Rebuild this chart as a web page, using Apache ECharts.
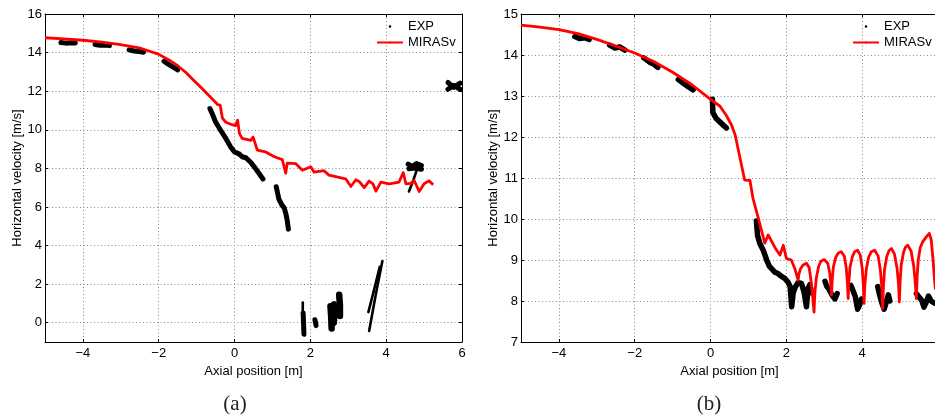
<!DOCTYPE html>
<html>
<head>
<meta charset="utf-8">
<script src="https://cdn.jsdelivr.net/npm/echarts@6/dist/echarts.min.js"></script>
<style>
  html, body { margin: 0; padding: 0; background: #fff; }
  #chart { width: 935px; height: 419px; }
</style>
</head>
<body>
<div id="chart"></div>
<script>
// Tick values
const xTicks = [-4, -2, 0, 2, 4, 6];
const yTicksA = [0, 2, 4, 6, 8, 10, 12, 14, 16];
const yTicksB = [7, 8, 9, 10, 11, 12, 13, 14, 15];

// (a) MIRASv simulation: [axial position m, horizontal velocity m/s]
const mirasA = [
  [-5, 14.77], [-4.5, 14.71], [-4, 14.64], [-3.5, 14.54], [-3.05, 14.42], [-2.52, 14.25],
  [-2.01, 13.92], [-1.73, 13.62], [-1.5, 13.32], [-1.29, 12.98], [-1.1, 12.6], [-0.85, 12.12],
  [-0.6, 11.62], [-0.44, 11.3], [-0.38, 11.28], [-0.32, 10.6], [-0.23, 10.39], [-0.05, 10.25],
  [0.03, 10.22], [0.08, 10.5], [0.13, 9.8], [0.2, 9.55], [0.43, 9.45], [0.49, 9.62], [0.6, 8.95],
  [0.82, 8.85], [1.05, 8.6], [1.26, 8.45], [1.35, 7.75], [1.39, 8.27], [1.61, 8.25], [1.79, 7.9],
  [2.01, 8.08], [2.1, 7.8], [2.36, 7.88], [2.49, 7.65], [2.93, 7.46], [3.07, 7.06], [3.2, 7.41],
  [3.3, 7.3], [3.42, 7.0], [3.55, 7.34], [3.65, 7.2], [3.73, 6.82], [3.86, 7.29], [4.08, 7.2],
  [4.34, 7.29], [4.45, 7.78], [4.52, 7.2], [4.65, 7.22], [4.74, 7.37], [4.87, 6.8], [5.0, 7.2],
  [5.13, 7.35], [5.24, 7.15]
];

// (a) experimental traces, one array per recorded stretch
const expA1 = [[-4.58, 14.52], [-4.45, 14.49], [-4.32, 14.51], [-4.2, 14.5]];
const expA2 = [[-3.68, 14.42], [-3.55, 14.38], [-3.42, 14.39], [-3.3, 14.36]];
const expA3 = [[-2.78, 14.14], [-2.65, 14.08], [-2.52, 14.06], [-2.4, 14.02]];
const expA4 = [[-1.86, 13.55], [-1.75, 13.4], [-1.62, 13.25], [-1.5, 13.1]];
const expA5 = [[-0.65, 11.1], [-0.56, 10.7], [-0.5, 10.4], [-0.36, 9.95], [-0.23, 9.55],
  [-0.1, 9.1], [0, 8.85], [0.12, 8.75], [0.2, 8.6], [0.3, 8.55], [0.43, 8.3], [0.55, 8.0], [0.75, 7.45]];
const expA6 = [[1.1, 7.05], [1.17, 6.4], [1.25, 6.1], [1.31, 5.95], [1.36, 5.6], [1.39, 5.3], [1.42, 4.85]];
const expA7 = [[1.81, 0.5], [1.82, 0.0], [1.83, -0.6]];
const expA8 = [[2.12, 0.15], [2.15, -0.15]];
const expA12 = [[4.58, 8.22], [4.7, 8.1], [4.8, 8.25], [4.93, 8.15]];
const expA13 = [[4.6, 7.98], [4.75, 8.02], [4.93, 7.95]];
const expA14 = [[5.63, 12.45], [5.78, 12.2], [5.95, 12.42]];
const expA15 = [[5.63, 12.1], [5.78, 12.3], [5.95, 12.1]];
// wider patches near x = 2.5 .. 2.8
const expABlob1 = [[2.53, 0.85], [2.55, 0.3], [2.56, -0.3]];
const expABlob2 = [[2.62, 0.95], [2.63, 0.4], [2.62, 0.0]];
const expABlob3 = [[2.76, 1.45], [2.78, 0.9], [2.78, 0.35]];
// thin strokes
const expAThin1 = [[1.8, 1.05], [1.8, 0.55]];
const expAThin2 = [[3.55, -0.43], [3.72, 1.4], [3.9, 3.2]];
const expAThin3 = [[3.53, 0.55], [3.68, 1.7], [3.83, 2.9]];
const expAThin4 = [[4.82, 8.0], [4.72, 7.4], [4.6, 6.8]];

// (b) MIRASv simulation
const mirasB = [
  [-5, 14.73], [-4.5, 14.68], [-4, 14.62], [-3.5, 14.52], [-3, 14.38], [-2.5, 14.22], [-2, 14.05],
  [-1.5, 13.84], [-1, 13.58], [-0.5, 13.28], [0, 12.92], [0.25, 12.75], [0.4, 12.55], [0.55, 12.3],
  [0.65, 12.05], [0.77, 11.52], [0.9, 10.95], [1.04, 10.94], [1.12, 10.5], [1.26, 10.02],
  [1.43, 9.41], [1.52, 9.61], [1.7, 9.3], [1.83, 9.12], [1.92, 9.36], [2.0, 9.04], [2.13, 9.0],
  [2.22, 8.8], [2.31, 8.51],
  [2.33, 8.65], [2.37, 8.78], [2.44, 8.88], [2.53, 8.92], [2.6, 8.82], [2.65, 8.5], [2.69, 8.15], [2.73, 7.73],
  [2.75, 8.18], [2.79, 8.56], [2.85, 8.84], [2.91, 8.97], [3.0, 9.01], [3.09, 8.92], [3.14, 8.71], [3.17, 8.45], [3.19, 8.15],
  [3.21, 8.52], [3.24, 8.83], [3.3, 9.06], [3.37, 9.17], [3.45, 9.2], [3.53, 9.09], [3.58, 8.8], [3.61, 8.46], [3.63, 8.06],
  [3.65, 8.48], [3.68, 8.83], [3.74, 9.08], [3.8, 9.2], [3.88, 9.24], [3.95, 9.12], [4.0, 8.8], [4.03, 8.4], [4.05, 7.94],
  [4.07, 8.4], [4.11, 8.78], [4.17, 9.07], [4.24, 9.2], [4.33, 9.24], [4.42, 9.1], [4.48, 8.75], [4.52, 8.3], [4.54, 7.82],
  [4.56, 8.33], [4.59, 8.77], [4.65, 9.09], [4.71, 9.23], [4.77, 9.28], [4.85, 9.15], [4.92, 8.8], [4.96, 8.4], [4.98, 7.98],
  [5.0, 8.46], [5.03, 8.88], [5.09, 9.18], [5.14, 9.31], [5.2, 9.36], [5.29, 9.22], [5.36, 8.85], [5.4, 8.45], [5.43, 8.06],
  [5.45, 8.6], [5.48, 9.0], [5.53, 9.3], [5.6, 9.45], [5.68, 9.55], [5.77, 9.65], [5.82, 9.5], [5.87, 9.0], [5.91, 8.5],
  [5.93, 8.3], [6, 8.3]
];

// (b) experimental traces
const expB1 = [[-3.58, 14.45], [-3.45, 14.4], [-3.32, 14.42], [-3.2, 14.38]];
const expB2 = [[-2.66, 14.24], [-2.52, 14.17], [-2.4, 14.2], [-2.26, 14.12]];
const expB3 = [[-1.76, 13.93], [-1.6, 13.82], [-1.5, 13.78], [-1.39, 13.7]];
const expB4 = [[-0.85, 13.4], [-0.7, 13.3], [-0.58, 13.22], [-0.46, 13.15]];
const expB5 = [[0.05, 12.92], [0.06, 12.6], [0.15, 12.45], [0.3, 12.32], [0.42, 12.22]];
const expB6 = [[1.21, 9.95], [1.24, 9.6], [1.3, 9.4], [1.39, 9.24], [1.48, 9.0], [1.55, 8.85],
  [1.61, 8.79], [1.7, 8.7], [1.78, 8.67], [1.87, 8.6], [1.96, 8.55], [2.05, 8.45], [2.1, 8.35],
  [2.14, 7.86], [2.18, 8.2], [2.24, 8.35], [2.31, 8.45], [2.4, 8.43], [2.47, 8.2], [2.53, 7.86],
  [2.57, 8.3], [2.62, 8.4], [2.66, 8.2]];
const expB7 = [[3.02, 8.48], [3.07, 8.35], [3.12, 8.3], [3.2, 8.15], [3.28, 8.05], [3.34, 8.18]];
const expB8 = [[3.7, 8.38], [3.76, 8.25], [3.82, 8.1], [3.88, 7.8], [3.93, 7.9], [3.98, 8.05]];
const expB9 = [[4.41, 8.35], [4.46, 8.15], [4.52, 7.95], [4.58, 7.8], [4.63, 7.95], [4.69, 8.15], [4.73, 8.0]];
const expB10 = [[5.43, 8.18], [5.5, 8.1], [5.57, 8.02], [5.63, 7.85], [5.68, 7.95], [5.75, 8.12], [5.82, 8.0], [5.9, 7.95]];

const FONT = '"Liberation Sans", Arial, Helvetica, sans-serif';
const fmt = v => String(v).replace('-', '\u2212');

function xAxis(grid, position, withLabels) {
  return {
    type: 'value', gridIndex: grid, position: position, min: -5, max: 6,
    name: withLabels ? 'Axial position [m]' : '', nameLocation: 'middle', nameGap: 17,
    nameTextStyle: { fontFamily: FONT, fontSize: 13, color: '#000' },
    axisLine: { show: true, onZero: false, lineStyle: { color: '#000', width: 1 } },
    axisTick: { show: true, inside: true, length: 3, customValues: xTicks, lineStyle: { color: '#000' } },
    axisLabel: { show: withLabels, customValues: xTicks, formatter: fmt, margin: 5,
      fontFamily: FONT, fontSize: 13, color: '#000' },
    splitLine: { show: withLabels, lineStyle: { color: '#888', width: 1, type: [1, 2.5] } }
  };
}
function yAxis(grid, position, withLabels, min, max, ticks) {
  return {
    type: 'value', gridIndex: grid, position: position, min: min, max: max,
    name: withLabels ? 'Horizontal velocity [m/s]' : '', nameLocation: 'middle', nameGap: 21,
    nameTextStyle: { fontFamily: FONT, fontSize: 13, color: '#000' },
    axisLine: { show: true, onZero: false, lineStyle: { color: '#000', width: 1 } },
    axisTick: { show: true, inside: true, length: 3, customValues: ticks, lineStyle: { color: '#000' } },
    axisLabel: { show: withLabels, customValues: ticks, formatter: fmt, margin: 3,
      fontFamily: FONT, fontSize: 13, color: '#000' },
    splitLine: { show: withLabels, lineStyle: { color: '#888', width: 1, type: [1, 2.5] } }
  };
}

function expSeries(data, xi, yi, width) {
  return {
    name: 'EXP', type: 'line', xAxisIndex: xi, yAxisIndex: yi, data: data,
    showSymbol: false, symbol: 'none', silent: true, z: 2,
    lineStyle: { color: '#000', width: width, join: 'round', cap: 'round' },
    itemStyle: { color: '#000' }
  };
}
function mirasSeries(data, xi, yi) {
  return {
    name: 'MIRASv', type: 'line', xAxisIndex: xi, yAxisIndex: yi, data: data,
    showSymbol: false, symbol: 'none', silent: true, z: 3,
    lineStyle: { color: '#ff0000', width: 2.8, join: 'round' },
    itemStyle: { color: '#ff0000' }
  };
}

const thickA = [expA1, expA2, expA3, expA4, expA5, expA6, expA7, expA8, expA12, expA13, expA14, expA15];
const blobA = [expABlob1, expABlob2, expABlob3];
const thinA = [expAThin1, expAThin2, expAThin3, expAThin4];
const thickB = [expB1, expB2, expB3, expB4, expB5, expB6, expB7, expB8, expB9, expB10];

const series = [];
thickA.forEach(d => series.push(expSeries(d, 0, 0, 5)));
blobA.forEach(d => series.push(expSeries(d, 0, 0, 6.5)));
thinA.forEach(d => series.push(expSeries(d, 0, 0, 2.6)));
series.push(mirasSeries(mirasA, 0, 0));
thickB.forEach(d => series.push(expSeries(d, 2, 2, 5.5)));
series.push(mirasSeries(mirasB, 2, 2));

function legend(left) {
  return {
    left: left, top: 20, orient: 'vertical', itemWidth: 26, itemHeight: 2.5, itemGap: 3,
    padding: 0, selectedMode: false,
    textStyle: { fontFamily: FONT, fontSize: 13, color: '#000' },
    data: [
      { name: 'EXP', icon: 'circle', itemStyle: { color: '#000', borderWidth: 0 } },
      { name: 'MIRASv' }
    ]
  };
}

const chart = echarts.init(document.getElementById('chart'), null, { renderer: 'canvas' });
chart.setOption({
  backgroundColor: '#fff',
  animation: false,
  grid: [
    { left: 45, top: 14, width: 417, height: 328, show: false, outerBoundsMode: 'none', containLabel: false },
    { left: 521, top: 14, width: 417, height: 328, show: false, outerBoundsMode: 'none', containLabel: false }
  ],
  xAxis: [xAxis(0, 'bottom', true), xAxis(0, 'top', false), xAxis(1, 'bottom', true), xAxis(1, 'top', false)],
  yAxis: [
    yAxis(0, 'left', true, -1, 16, yTicksA), yAxis(0, 'right', false, -1, 16, yTicksA),
    yAxis(1, 'left', true, 7, 15, yTicksB), yAxis(1, 'right', false, 7, 15, yTicksB)
  ],
  legend: [legend(376), legend(852)],
  series: series,
  graphic: [
    { type: 'text', x: 235, y: 404, style: { text: '(a)', font: '21px "Liberation Serif", "DejaVu Serif", serif', fill: '#222', align: 'center', verticalAlign: 'middle' } },
    { type: 'text', x: 709, y: 404, style: { text: '(b)', font: '21px "Liberation Serif", "DejaVu Serif", serif', fill: '#222', align: 'center', verticalAlign: 'middle' } }
  ]
});
</script>
</body>
</html>
